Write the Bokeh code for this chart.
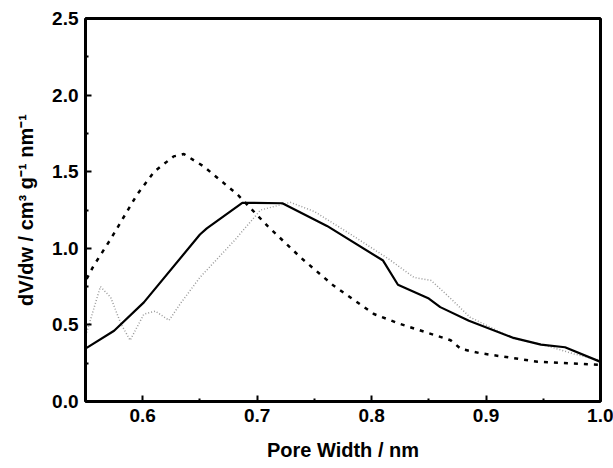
from bokeh.plotting import figure
from bokeh.models import FixedTicker, Range1d, LinearAxis
from bokeh.embed import file_html
from bokeh.resources import INLINE

# Solid curve
solid_x = [0.551, 0.575, 0.601, 0.65, 0.656, 0.687, 0.722, 0.761, 0.81, 0.823, 0.85, 0.86, 0.885, 0.924, 0.948, 0.969, 0.999]
solid_y = [0.35, 0.462, 0.647, 1.09, 1.13, 1.297, 1.294, 1.146, 0.92, 0.762, 0.672, 0.616, 0.527, 0.415, 0.371, 0.354, 0.262]

# Dashed curve
dash_x = [0.551, 0.557, 0.572, 0.595, 0.61, 0.627, 0.636, 0.653, 0.683, 0.709, 0.738, 0.767, 0.802, 0.825, 0.869, 0.878, 0.895, 0.945, 0.999]
dash_y = [0.80, 0.885, 1.06, 1.35, 1.50, 1.60, 1.615, 1.536, 1.35, 1.146, 0.94, 0.755, 0.571, 0.506, 0.40, 0.343, 0.315, 0.26, 0.24]

# Dotted grey curve
dot_x = [0.551, 0.563, 0.572, 0.581, 0.589, 0.601, 0.611, 0.623, 0.633, 0.65, 0.68, 0.703, 0.729, 0.75, 0.782, 0.815, 0.837, 0.852, 0.868, 0.886, 0.924, 0.948, 0.977, 0.999]
dot_y = [0.45, 0.75, 0.68, 0.506, 0.40, 0.57, 0.59, 0.53, 0.64, 0.81, 1.05, 1.25, 1.30, 1.24, 1.09, 0.93, 0.81, 0.79, 0.68, 0.55, 0.41, 0.375, 0.31, 0.27]

x_ticks = [0.6, 0.7, 0.8, 0.9, 1.0]
x_minor = [0.55, 0.65, 0.75, 0.85, 0.95]
y_ticks = [0.0, 0.5, 1.0, 1.5, 2.0, 2.5]
y_minor = [0.25, 0.75, 1.25, 1.75, 2.25]

p = figure(frame_width=515, frame_height=383, output_backend="svg", toolbar_location=None,
           x_range=Range1d(0.55, 1.0), y_range=Range1d(0.0, 2.5),
           min_border_left=85, min_border_right=13, min_border_top=18, min_border_bottom=67)
p.background_fill_color = "white"
p.border_fill_color = "white"
p.xgrid.visible = False
p.ygrid.visible = False
p.outline_line_color = "black"
p.outline_line_width = 2.5

p.line(dot_x, dot_y, line_color="#9a9a9a", line_width=1.5, line_dash="1 2")
p.line(dash_x, dash_y, line_color="black", line_width=2.5, line_dash="4 6")
p.line(solid_x, solid_y, line_color="black", line_width=2.2)

for ax, ticks, minor in ((p.xaxis[0], x_ticks, x_minor), (p.yaxis[0], y_ticks, y_minor)):
    ax.ticker = FixedTicker(ticks=ticks, minor_ticks=minor)
    ax.major_label_overrides = {t: f"{t:.1f}" for t in ticks}
    ax.axis_line_width = 3
    ax.major_tick_in = 6
    ax.major_tick_out = 0
    ax.minor_tick_in = 3
    ax.minor_tick_out = 0
    ax.major_tick_line_width = 2
    ax.minor_tick_line_width = 2
    ax.major_label_text_font = "Liberation Sans"
    ax.major_label_text_font_style = "bold"
    ax.major_label_text_font_size = "19px"
    ax.major_label_text_color = "black"
    ax.axis_label_text_font = "Liberation Sans"
    ax.axis_label_text_font_style = "bold"
    ax.axis_label_text_font_size = "20px"
    ax.axis_label_text_color = "black"
    ax.major_label_standoff = 7

p.xaxis.axis_label = "Pore Width / nm"
p.yaxis.axis_label = "dV/dw / cm\u00b3 g\u207b\u00b9 nm\u207b\u00b9"
p.xaxis.axis_label_standoff = 14
p.yaxis.axis_label_standoff = 12

# frame lines on top and right (no ticks, no labels)
for loc in ("right", "above"):
    a = LinearAxis(ticker=FixedTicker(ticks=[]), axis_line_width=3, axis_line_color="black",
                   major_tick_line_color=None, minor_tick_line_color=None,
                   major_label_text_font_size="0px")
    p.add_layout(a, loc)

open("out.html", "w").write(file_html(p, INLINE))
